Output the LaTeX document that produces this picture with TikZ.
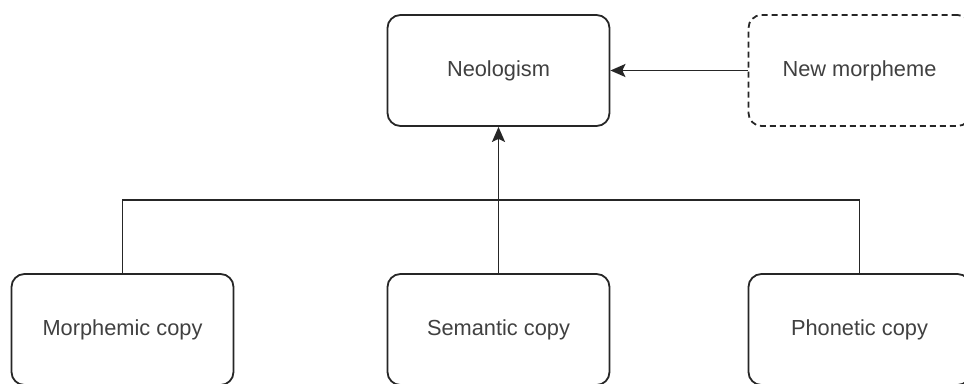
\documentclass[tikz,border=0pt]{standalone}
\usepackage{fontspec}
\setmainfont{Liberation Sans}
\usetikzlibrary{arrows.meta}
\begin{document}
\begin{tikzpicture}[x=1pt,y=-1pt,
  box/.style={draw=black!85, line width=1.8pt, rounded corners=13pt,
    minimum width=222pt, minimum height=111pt, inner sep=0pt,
    text=black!75, font=\fontsize{21.8}{26}\selectfont},
  dashbox/.style={box, dash pattern=on 6pt off 4pt},
  link/.style={draw=black!85, line width=1.8pt},
  tip/.style={-{Stealth[length=15pt,width=13pt,inset=3pt]}}]
  \useasboundingbox (0,0) rectangle (964,383);
  % top row
  \node[box] (neo) at (498.5,70.5) {Neologism};
  \node[dashbox] (newm) at (859.5,70.5) {New morpheme};
  % bottom row
  \node[box] (morph) at (122.5,329.5) {Morphemic copy};
  \node[box] (sem) at (498.5,329.5) {Semantic copy};
  \node[box] (phon) at (859.5,329.5) {Phonetic copy};
  % junction line
  \coordinate (jl) at (morph.north |- 0,200);
  \coordinate (jr) at (phon.north |- 0,200);
  \draw[link, tip] (newm) -- (neo);
  \draw[link, tip] (sem) -- (neo);
  \draw[link] (morph.north) -- (jl) -- (jr) -- (phon.north);
\end{tikzpicture}
\end{document}
